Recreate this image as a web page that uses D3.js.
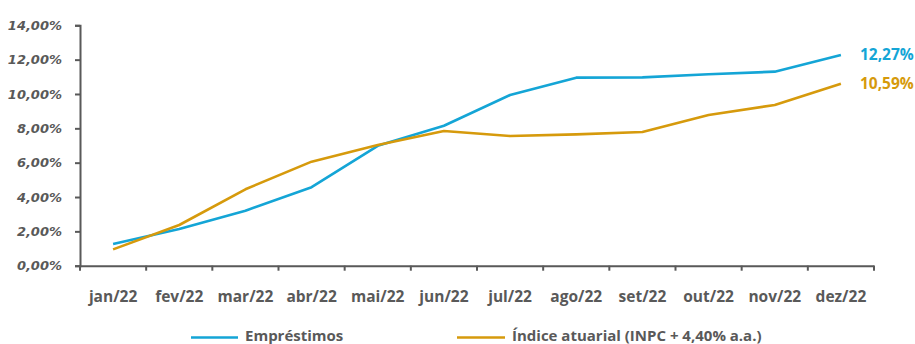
<!DOCTYPE html>
<html><head><meta charset="utf-8">
<script src="https://cdn.jsdelivr.net/npm/d3@7"></script>
<style>
html,body{margin:0;padding:0;background:#fff;}
svg{display:block;}
text{font-family:"Open Sans",sans-serif;font-weight:700;fill:#595959;}
</style></head>
<body>
<svg id="chart" width="915" height="344"></svg>
<script>
const months = ["jan/22","fev/22","mar/22","abr/22","mai/22","jun/22","jul/22","ago/22","set/22","out/22","nov/22","dez/22"];
const emprestimos = [1.26, 2.14, 3.2, 4.57, 6.98, 8.15, 9.94, 10.95, 10.97, 11.15, 11.3, 12.27];
const indiceAtuarial = [0.95, 2.37, 4.45, 6.06, 7.03, 7.84, 7.55, 7.65, 7.79, 8.78, 9.36, 10.59];
const yTicks = [0, 2, 4, 6, 8, 10, 12, 14];
const seriesNames = ["Empréstimos", "Índice atuarial (INPC + 4,40% a.a.)"];
const colors = ["#14a5d6", "#d69a0c"];

const svg = d3.select("#chart");
const fmt = v => v.toFixed(2).replace(".", ",") + "%";

const x = d3.scaleBand().domain(months).range([80, 874]);
const y = d3.scaleLinear().domain([0, 14]).range([265.7, 25.3]);

// y axis
const yAxis = svg.append("g").attr("transform", "translate(80,0)")
  .call(d3.axisLeft(y).tickValues(yTicks).tickFormat(d => fmt(d)).tickSize(5).tickPadding(13));
yAxis.selectAll("text")
  .style("font-family", "'DejaVu Sans', sans-serif")
  .style("font-size", "13px").style("font-style", "italic").attr("fill", "#595959");

// x axis
const xAxis = svg.append("g").attr("transform", "translate(0,265.7)")
  .call(d3.axisBottom(x).tickSize(0).tickPadding(25));
xAxis.selectAll("text").style("font-size", "15.5px").attr("fill", "#595959");
// boundary ticks for band axis
const bounds = months.map(m => x(m)).concat([x.range()[1]]);
xAxis.selectAll(".bt").data(bounds).enter().append("line")
  .attr("x1", d => d).attr("x2", d => d).attr("y1", 0).attr("y2", 5)
  .attr("stroke", "#595959").attr("stroke-width", 2);

svg.selectAll(".domain, .tick line").attr("stroke", "#595959").attr("stroke-width", 2);

// lines
const line = d3.line().x((d, i) => x(months[i]) + x.bandwidth() / 2).y(d => y(d));
[emprestimos, indiceAtuarial].forEach((s, k) => {
  svg.append("path").datum(s).attr("d", line)
    .attr("fill", "none").attr("stroke", colors[k]).attr("stroke-width", 2.6)
    .attr("stroke-linejoin", "round");
  const last = s[s.length - 1];
  svg.append("text")
    .attr("x", x(months[months.length - 1]) + x.bandwidth() / 2 + 19)
    .attr("y", y(last)).attr("dy", "0.35em")
    .style("font-size", "15.5px").style("fill", colors[k])
    .text(fmt(last));
});

// legend
const legendX = [191, 457];
const legendLen = [47, 48];
seriesNames.forEach((n, k) => {
  svg.append("line").attr("x1", legendX[k]).attr("x2", legendX[k] + legendLen[k])
    .attr("y1", 337.5).attr("y2", 337.5).attr("stroke", colors[k]).attr("stroke-width", 2.6);
  svg.append("text").attr("x", legendX[k] + legendLen[k] + 7).attr("y", 340.5)
    .style("font-size", "15px").text(n);
});
</script>
</body></html>
